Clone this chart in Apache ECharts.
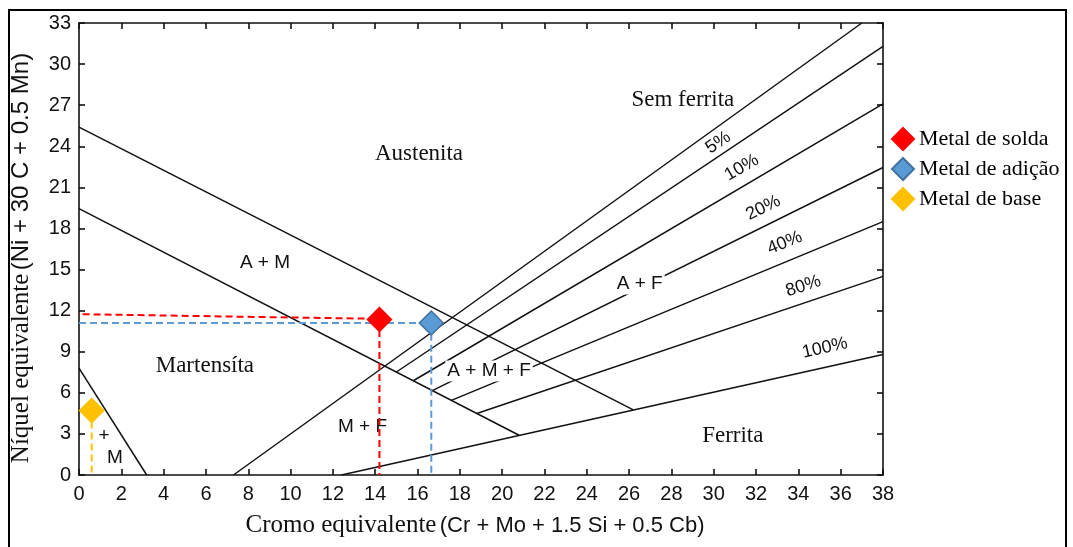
<!DOCTYPE html>
<html>
<head>
<meta charset="utf-8">
<title>Diagrama de Schaeffler</title>
<script src="https://cdn.jsdelivr.net/npm/echarts@6/dist/echarts.min.js"></script>
<style>
  html, body { margin: 0; padding: 0; background: #fff; }
  #chart-view { width: 1073px; height: 547px; }
</style>
</head>
<body>
<div id="chart-view"></div>
<script>
// linhas de fronteira do diagrama (Cr eq, Ni eq)
var noFerrite = [[7.3, 0], [37.0, 33]];
var austeniteEdge = [[0, 25.4], [26.2, 4.75]];
var martensiteEdge = [[0, 19.45], [20.8, 2.9]];
var cornerEdge = [[0, 7.8], [3.2, 0]];

// linhas de % de ferrita
var ferriteNames = ['5%', '10%', '20%', '40%', '80%', '100%'];
var ferriteStart = [[15.0, 7.52], [15.8, 6.88], [16.7, 6.16], [17.6, 5.45], [18.8, 4.49], [12.4, 0]];
var ferriteEnd = [[38, 31.3], [38, 27.1], [38, 22.45], [38, 18.5], [38, 14.5], [38, 8.8]];
var ferriteLabelPos = [[30.21, 24.26], [31.32, 22.43], [32.34, 19.5], [33.36, 16.95], [34.23, 13.78], [35.25, 9.27]];
var ferriteLabelRot = [34, 30, 26, 22, 18, 12.5];

// nomes das regioes
var serifLabels = ['Sem ferrita', 'Austenita', 'Martensíta', 'Ferrita'];
var serifLabelPos = [[28.54, 27.36], [16.07, 23.41], [5.95, 7.97], [30.9, 2.85]];
var phaseLabels = ['A + M', 'A + F', 'A + M + F', 'M + F', '+', 'M'];
var phaseLabelPos = [[8.79, 15.5], [26.5, 13.95], [19.38, 7.6], [13.4, 3.5], [1.18, 2.87], [1.7, 1.25]];

// pontos medidos
var pointNames = ['Metal de solda', 'Metal de adição', 'Metal de base'];
var pointValues = [[14.2, 11.35], [16.65, 11.1], [0.6, 4.7]];
var pointGuides = [
    [[-0.35, 11.75], [14.2, 11.4], [14.2, 0]],
    [[0, 11.1], [16.65, 11.1], [16.65, 0]],
    [[0.6, 4.7], [0.6, 0]]
];
var pointColors = ['#FF0000', '#5B9BD5', '#FFC000'];
var pointBorders = ['#FF0000', '#41719C', '#FFC000'];

var trendChart = echarts.init(document.getElementById('chart-view'));

var sans = 'Liberation Sans';
var serif = 'Liberation Serif';
var series = [];

function addLine(pts) {
    series.push({
        type: 'line', data: pts, symbol: 'none', silent: true, z: 2,
        lineStyle: { color: '#111', width: 1.5 }
    });
}
addLine(noFerrite);
addLine(austeniteEdge);
addLine(martensiteEdge);
addLine(cornerEdge);
for (var i = 0; i < ferriteStart.length; i++) {
    addLine([ferriteStart[i], ferriteEnd[i]]);
}

// textos dentro do grafico
var textData = [];
var textInfo = [];
for (var a = 0; a < serifLabels.length; a++) {
    textData.push(serifLabelPos[a]);
    textInfo.push({ text: serifLabels[a], font: '23px "' + serif + '"', rot: 0 });
}
for (var b = 0; b < phaseLabels.length; b++) {
    var bg = (phaseLabels[b] == 'A + F' || phaseLabels[b] == 'A + M + F');
    textData.push(phaseLabelPos[b]);
    textInfo.push({ text: phaseLabels[b], font: '19px "' + sans + '"', rot: 0, bg: bg });
}
for (var c = 0; c < ferriteNames.length; c++) {
    textData.push(ferriteLabelPos[c]);
    textInfo.push({ text: ferriteNames[c], font: '18px "' + sans + '"', rot: ferriteLabelRot[c] });
}
series.push({
    type: 'custom', data: textData, silent: true, z: 3,
    renderItem: function(params, api) {
        var info = textInfo[params.dataIndex];
        var pt = api.coord([api.value(0), api.value(1)]);
        return {
            type: 'text', x: pt[0], y: pt[1], rotation: info.rot * Math.PI / 180,
            style: {
                text: info.text, font: info.font, fill: '#111',
                align: 'center', verticalAlign: 'middle',
                backgroundColor: info.bg ? '#fff' : null, padding: info.bg ? [1, 2] : 0
            }
        };
    }
});

// linhas tracejadas e pontos
for (var p = 0; p < pointNames.length; p++) {
    series.push({
        type: 'line', data: pointGuides[p], symbol: 'none', silent: true, z: 4, clip: false,
        lineStyle: { color: pointColors[p], width: 2, type: [7, 4] }
    });
}
for (var q = 0; q < pointNames.length; q++) {
    series.push({
        name: pointNames[q], type: 'scatter', data: [pointValues[q]], symbol: 'diamond', symbolSize: 24, z: 5,
        itemStyle: { color: pointColors[q], borderColor: pointBorders[q], borderWidth: 1.5, opacity: 1 }
    });
}

var axisLineStyle = { color: '#111', width: 1.6 };
var labelStyle = { fontFamily: sans, fontSize: 20, color: '#111' };

var option = {
    animation: false,
    backgroundColor: '#fff',
    grid: { left: 79, right: 190, top: 23, bottom: 72 },
    legend: {
        data: pointNames, orient: 'vertical', left: 891, top: 127, padding: 0,
        itemWidth: 22, itemHeight: 22, itemGap: 6, icon: 'diamond',
        itemStyle: { opacity: 1 },
        textStyle: { fontFamily: serif, fontSize: 22, color: '#000' }
    },
    xAxis: [{
        type: 'value', min: 0, max: 38, interval: 2, position: 'bottom',
        axisLine: { onZero: false, lineStyle: axisLineStyle },
        axisTick: { inside: true, length: 6, lineStyle: axisLineStyle },
        axisLabel: Object.assign({ margin: 9 }, labelStyle),
        splitLine: { show: false },
        name: '{a|Cromo equivalente} {b|(Cr + Mo + 1.5 Si + 0.5 Cb)}',
        nameLocation: 'middle', nameGap: 38,
        nameTextStyle: { padding: [0, 12, 0, 0], rich: {
            a: { fontFamily: serif, fontSize: 25, color: '#111' },
            b: { fontFamily: sans, fontSize: 22, color: '#111' }
        } }
    }, {
        type: 'value', min: 0, max: 38, interval: 2, position: 'top',
        axisLine: { onZero: false, lineStyle: axisLineStyle },
        axisTick: { inside: true, length: 6, lineStyle: axisLineStyle },
        axisLabel: { show: false }, splitLine: { show: false }
    }],
    yAxis: [{
        type: 'value', min: 0, max: 33, interval: 3, position: 'left',
        axisLine: { onZero: false, lineStyle: axisLineStyle },
        axisTick: { inside: true, length: 6, lineStyle: axisLineStyle },
        axisLabel: Object.assign({ margin: 8 }, labelStyle),
        splitLine: { show: false },
        name: '{a|Níquel equivalente} {b|(Ni + 30 C + 0.5 Mn)}',
        nameLocation: 'middle', nameGap: 45,
        nameTextStyle: { padding: [0, 18, 0, 0], rich: {
            a: { fontFamily: serif, fontSize: 25, color: '#111' },
            b: { fontFamily: sans, fontSize: 24, color: '#111' }
        } }
    }, {
        type: 'value', min: 0, max: 33, interval: 3, position: 'right',
        axisLine: { onZero: false, lineStyle: axisLineStyle },
        axisTick: { inside: true, length: 6, lineStyle: axisLineStyle },
        axisLabel: { show: false }, splitLine: { show: false }
    }],
    graphic: [{
        type: 'rect', silent: true, z: 100,
        shape: { x: 9, y: 10, width: 1057, height: 560 },
        style: { fill: 'none', stroke: '#000', lineWidth: 2 }
    }],
    series: series
};
trendChart.setOption(option);
</script>
</body>
</html>
